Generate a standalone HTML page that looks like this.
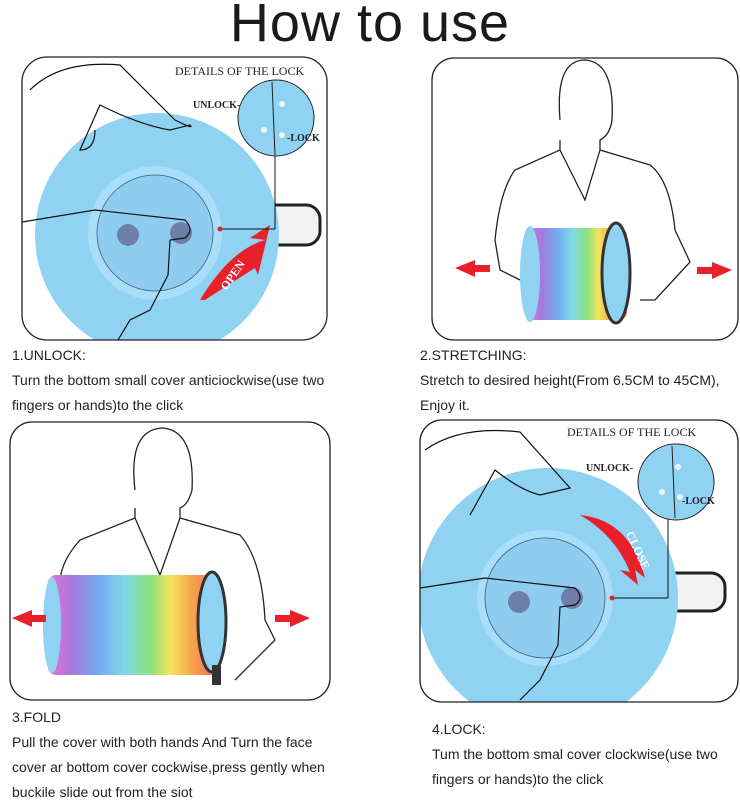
<!DOCTYPE html>
<html><head><meta charset="utf-8"><style>
body{margin:0;background:#fff;width:740px;height:800px;overflow:hidden;position:relative;font-family:"Liberation Sans",sans-serif}
.t{position:absolute;font-size:14px;color:#222;line-height:25px}
h1{position:absolute;left:0;top:-8px;width:740px;text-align:center;margin:0;font-weight:normal;font-size:54px;color:#1a1a1a;letter-spacing:1px}
svg{position:absolute;left:0;top:0}
</style></head><body>
<h1>How to use</h1>
<svg width="740" height="800" viewBox="0 0 740 800">
<defs>
<clipPath id="c1"><rect x="22" y="57" width="305" height="283" rx="25"/></clipPath>
<clipPath id="c2"><rect x="432" y="58" width="306" height="282" rx="22"/></clipPath>
<clipPath id="c3"><rect x="10" y="422" width="320" height="278" rx="22"/></clipPath>
<clipPath id="c4"><rect x="420" y="420" width="318" height="282" rx="22"/></clipPath>
<linearGradient id="rb" x1="0" x2="1"><stop offset="0" stop-color="#e96fd1"/><stop offset=".15" stop-color="#a27be0"/><stop offset=".3" stop-color="#74a9f0"/><stop offset=".45" stop-color="#7fd8e8"/><stop offset=".6" stop-color="#8be27d"/><stop offset=".72" stop-color="#f4e35c"/><stop offset=".85" stop-color="#f7a24c"/><stop offset="1" stop-color="#ee6a5a"/></linearGradient>
</defs>
<!-- Panel 1 -->
<g clip-path="url(#c1)">
<rect x="22" y="57" width="305" height="283" fill="#fff"/>
<rect x="262" y="205" width="58" height="40" rx="14" fill="#f2f2f2" stroke="#222" stroke-width="3"/>
<circle cx="157" cy="235" r="122" fill="#8fd2f2"/>
<circle cx="155" cy="233" r="67" fill="#a9defa"/>
<circle cx="155" cy="233" r="58" fill="#8fcdf0" stroke="#3a5f80" stroke-width=".8"/>
<circle cx="128" cy="235" r="11" fill="#6e7fa8"/>
<circle cx="181" cy="233" r="11" fill="#6e7fa8"/>
<path d="M22 222 L95 210 L185 220 Q195 230 185 238 L170 240 L168 275 L150 310 L130 320 L118 340" fill="none" stroke="#111" stroke-width="1.2"/>
<path d="M30 90 Q60 60 120 65 L175 120 Q195 130 190 125 L170 130 Q140 125 100 105 L80 150 Q95 150 95 130" fill="none" stroke="#111" stroke-width="1.2"/>
<path d="M200 300 Q230 250 265 240 L250 238 L270 225 L258 275 L255 268 Q220 290 205 300Z" fill="#e8202a"/>
<text x="218" y="285" font-family="Liberation Serif" font-weight="bold" font-size="12" fill="#fff" transform="rotate(-55 228 280)">OPEN</text>
<line x1="220" y1="229" x2="275" y2="229" stroke="#111"/><line x1="275" y1="229" x2="275" y2="155" stroke="#111"/>
<circle cx="220" cy="229" r="2.5" fill="#d22"/>
<circle cx="276" cy="118" r="38" fill="#8fd2f2" stroke="#222"/>
<line x1="272" y1="82" x2="275" y2="155" stroke="#222"/>
<circle cx="282" cy="104" r="3" fill="#e6f6ff"/><circle cx="264" cy="130" r="3" fill="#e6f6ff"/><circle cx="282" cy="135" r="3" fill="#e6f6ff"/>
<text x="175" y="75" font-family="Liberation Serif" font-size="12" fill="#222">DETAILS OF THE LOCK</text>
<text x="193" y="108" font-family="Liberation Serif" font-weight="bold" font-size="10" fill="#222">UNLOCK-</text>
<text x="287" y="141" font-family="Liberation Serif" font-weight="bold" font-size="10" fill="#222">-LOCK</text>
</g>
<rect x="22" y="57" width="305" height="283" rx="25" fill="none" stroke="#222" stroke-width="1.3"/>
<!-- Panel 2 -->
<g clip-path="url(#c2)">
<path d="M560 120 Q555 60 585 60 Q615 62 612 120 Q610 135 600 140 L600 150 L650 165 Q670 180 675 230 L690 262 L655 300 L640 300 M560 140 L560 150 L515 170 Q500 190 495 240 L500 270 L520 280 M560 150 L585 200 L600 150" fill="none" stroke="#222" stroke-width="1.3"/>
<rect x="527" y="228" width="100" height="92" rx="8" fill="url(#rb)"/>
<ellipse cx="530" cy="274" rx="10" ry="48" fill="#8fd2f2"/>
<ellipse cx="616" cy="273" rx="14" ry="50" fill="#8fd2f2" stroke="#333" stroke-width="3"/>
<path d="M455 268 L475 260 L475 265 L490 265 L490 272 L475 272 L475 277Z" fill="#e8202a"/>
<path d="M732 270 L712 262 L712 267 L697 267 L697 274 L712 274 L712 279Z" fill="#e8202a"/>
</g>
<rect x="432" y="58" width="306" height="282" rx="22" fill="none" stroke="#222" stroke-width="1.3"/>
<!-- Panel 3 -->
<g clip-path="url(#c3)">
<path d="M135 490 Q128 430 162 428 Q195 430 192 490 Q188 505 180 508 L180 518 L240 535 Q262 560 265 620 L275 640 L235 680 M135 508 L135 518 L80 540 Q62 560 60 580 M135 518 L160 575 L180 518" fill="none" stroke="#222" stroke-width="1.3"/>
<rect x="48" y="575" width="170" height="100" rx="8" fill="url(#rb)"/>
<ellipse cx="52" cy="625" rx="9" ry="48" fill="#8fd2f2"/>
<ellipse cx="212" cy="622" rx="14" ry="50" fill="#8fd2f2" stroke="#333" stroke-width="3"/>
<rect x="212" y="665" width="9" height="20" fill="#333"/>
<path d="M12 618 L32 610 L32 615 L46 615 L46 622 L32 622 L32 627Z" fill="#e8202a"/>
<path d="M310 618 L290 610 L290 615 L275 615 L275 622 L290 622 L290 627Z" fill="#e8202a"/>
</g>
<rect x="10" y="422" width="320" height="278" rx="22" fill="none" stroke="#222" stroke-width="1.3"/>
<!-- Panel 4 -->
<g clip-path="url(#c4)">
<rect x="650" y="573" width="75" height="38" rx="14" fill="#f2f2f2" stroke="#222" stroke-width="3"/>
<circle cx="548" cy="598" r="130" fill="#8fd2f2"/>
<circle cx="545" cy="598" r="68" fill="#a9defa"/>
<circle cx="545" cy="598" r="60" fill="#8fcdf0" stroke="#3a5f80" stroke-width=".8"/>
<circle cx="519" cy="602" r="11" fill="#6e7fa8"/>
<circle cx="572" cy="598" r="11" fill="#6e7fa8"/>
<path d="M420 588 L485 578 L575 588 Q585 598 575 605 L560 607 L558 645 L540 680 L520 700" fill="none" stroke="#111" stroke-width="1.2"/>
<path d="M425 450 Q460 425 520 432 L570 488 L540 495 Q520 490 495 470 L470 515" fill="none" stroke="#111" stroke-width="1.2"/>
<path d="M580 515 Q630 520 645 578 L635 570 L638 585 L620 570 L630 572 Q615 535 580 515Z" fill="#e8202a"/>
<text x="612" y="535" font-family="Liberation Serif" font-weight="bold" font-size="12" fill="#fff" transform="rotate(65 620 545)">CLOSE</text>
<line x1="612" y1="598" x2="668" y2="598" stroke="#111"/><line x1="668" y1="598" x2="668" y2="518" stroke="#111"/>
<circle cx="612" cy="598" r="2.5" fill="#d22"/>
<circle cx="676" cy="482" r="38" fill="#8fd2f2" stroke="#222"/>
<line x1="672" y1="446" x2="675" y2="518" stroke="#222"/>
<circle cx="678" cy="467" r="3" fill="#e6f6ff"/><circle cx="662" cy="492" r="3" fill="#e6f6ff"/><circle cx="680" cy="497" r="3" fill="#e6f6ff"/>
<text x="567" y="436" font-family="Liberation Serif" font-size="12" fill="#222">DETAILS OF THE LOCK</text>
<text x="586" y="471" font-family="Liberation Serif" font-weight="bold" font-size="10" fill="#222">UNLOCK-</text>
<text x="682" y="504" font-family="Liberation Serif" font-weight="bold" font-size="10" fill="#222">-LOCK</text>
</g>
<rect x="420" y="420" width="318" height="282" rx="22" fill="none" stroke="#222" stroke-width="1.3"/>
</svg>
<div class="t" style="left:12px;top:343px">1.UNLOCK:<br>Turn the bottom small cover anticiockwise(use two<br>fingers or hands)to the click</div>
<div class="t" style="left:420px;top:343px">2.STRETCHING:<br>Stretch to desired height(From 6.5CM to 45CM),<br>Enjoy it.</div>
<div class="t" style="left:12px;top:705px">3.FOLD<br>Pull the cover with both hands And Turn the face<br>cover ar bottom cover cockwise,press gently when<br>buckile slide out from the siot</div>
<div class="t" style="left:432px;top:717px">4.LOCK:<br>Tum the bottom smal cover clockwise(use two<br>fingers or hands)to the click</div>
</body></html>
